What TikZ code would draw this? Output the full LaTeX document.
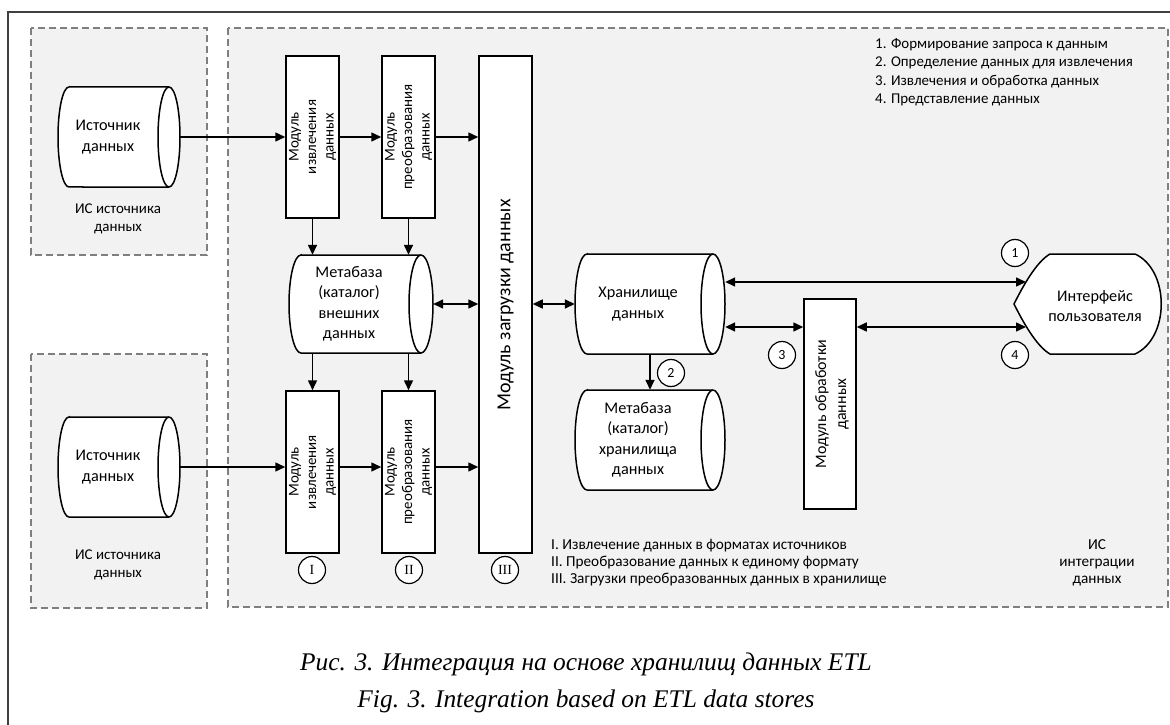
\documentclass[tikz,border=0pt]{standalone}
\usepackage{fontspec}
\setmainfont{Carlito}
\newfontfamily\capfont{Liberation Serif}
\usetikzlibrary{arrows.meta,calc}
\definecolor{panelgray}{HTML}{F2F2F2}
\definecolor{dashgray}{HTML}{7F7F7F}
\definecolor{framegray}{HTML}{404040}
\tikzset{
  panel/.style={draw=dashgray, fill=panelgray, line width=1.4bp, dash pattern=on 7bp off 4bp},
  modbox/.style={draw=black, fill=white, line width=1.5bp, minimum width=53bp, inner sep=0pt},
  dbline/.style={draw=black, fill=white, line width=1.5bp},
  dbtext/.style={align=center, font=\fontsize{16.3}{20.5}\selectfont, inner sep=0pt},
  modtext/.style={rotate=90, align=center, font=\fontsize{15}{17.5}\selectfont, inner sep=0pt},
  conn/.style={line width=1.5bp, -{Triangle[length=10bp,width=9bp]}},
  bidir/.style={line width=1.5bp, {Triangle[length=10bp,width=9bp]}-{Triangle[length=10bp,width=9bp]}},
  numc/.style={circle, draw=black, fill=white, line width=1.2bp, minimum size=27bp, inner sep=0pt, font=\fontsize{14}{14}\selectfont},
  legtext/.style={anchor=west, inner sep=0pt, font=\fontsize{15}{18}\selectfont},
  legtextb/.style={anchor=west, inner sep=0pt, font=\fontsize{15.3}{17}\selectfont},
  captext/.style={inner sep=0pt, font=\capfont\itshape\fontsize{25.5}{30}\selectfont}
}
% name, L, T, R, B, rx, text
\newcommand\dbcyl[7]{%
  \pgfmathsetmacro\dbhh{(#5-#3)/2}%
  \draw[dbline] (#2+#6,#3) -- (#4-#6,#3)
     arc[start angle=90,end angle=-90,x radius=#6bp,y radius=\dbhh bp]
     -- (#2+#6,#5)
     arc[start angle=270,end angle=90,x radius=#6bp,y radius=\dbhh bp] -- cycle;
  \draw[dbline, fill=none] (#4-#6,#3)
     arc[start angle=90,end angle=270,x radius=#6bp,y radius=\dbhh bp];
  \node[inner sep=0pt, minimum width={(#4-#2)*1bp}, minimum height={(#5-#3)*1bp}] (#1) at ({(#2+#4)/2},{(#3+#5)/2}) {};
  \node[dbtext] (#1-t) at ({(#2+#4)/2-#6},{(#3+#5)/2}) {#7};
}
\begin{document}
\begin{tikzpicture}[x=1bp,y=-1bp]
\useasboundingbox (0,0) rectangle (1170,725);
\fill[white] (0,0) rectangle (1170,725);
% frame
\draw[framegray, line width=2bp] (8,725) -- (8,12) -- (1170,12);
% panels
\draw[panel] (31,28) rectangle (207,255);
\draw[panel] (31,354) rectangle (207,608);
\draw[panel] (228,28) rectangle (1168,607);
% panel labels
\node[align=center, inner sep=0pt, font=\fontsize{15}{18.5}\selectfont] (is1) at (118,219) {ИС источника\\данных};
\node[align=center, inner sep=0pt, font=\fontsize{15}{18.5}\selectfont] (is2) at (118,565) {ИС источника\\данных};
\node[align=center, inner sep=0pt, font=\fontsize{15.3}{17}\selectfont] (isint) at (1097,563) {ИС\\интеграции\\данных};
% sources and metabases
\dbcyl{src1}{58}{87}{180}{187}{11}{Источник\\данных}
\dbcyl{src2}{58}{417}{180}{517}{11}{Источник\\данных}
\dbcyl{mext}{289}{255}{433}{353}{12}{Метабаза\\(каталог)\\внешних\\данных}
\dbcyl{store}{575}{254}{725}{354}{12}{Хранилище\\данных}
\dbcyl{mstore}{575}{390}{725}{490}{12}{Метабаза\\(каталог)\\хранилища\\данных}
% modules
\node[modbox, minimum height=162bp] (ext1) at (312.5,137) {};
\node[modtext] (ext1-t) at (312.5,137) {Модуль\\извлечения\\данных};
\node[modbox, minimum height=162bp] (tr1) at (408.5,137) {};
\node[modtext] (tr1-t) at (408.5,137) {Модуль\\преобразования\\данных};
\node[modbox, minimum height=162bp] (ext2) at (312.5,472) {};
\node[modtext] (ext2-t) at (312.5,472) {Модуль\\извлечения\\данных};
\node[modbox, minimum height=162bp] (tr2) at (408.5,472) {};
\node[modtext] (tr2-t) at (408.5,472) {Модуль\\преобразования\\данных};
\node[modbox, minimum height=497bp] (load) at (505.5,304.5) {};
\node[rotate=90, inner sep=0pt, font=\fontsize{20}{24}\selectfont] (load-t) at (505.5,305) {Модуль загрузки данных};
\node[modbox, minimum width=52bp, minimum height=210bp] (proc) at (830,404) {};
\node[rotate=90, align=center, inner sep=0pt, font=\fontsize{16}{20}\selectfont] (proc-t) at (832,404) {Модуль обработки\\данных};
% user interface
\draw[dbline] (1050,254) -- (1135,254) .. controls (1170,270) and (1170,338) .. (1135,354)
  -- (1050,354) .. controls (1036,346) and (1022,320) .. (1014,304)
  .. controls (1022,288) and (1036,262) .. (1050,254) -- cycle;
\node[dbtext] (ui) at (1095,306) {Интерфейс\\пользователя};
\coordinate (uiA) at (1026,282);
\coordinate (uiB) at (1026,327);
% connectors
\draw[conn] (src1.east) -- (ext1.west);
\draw[conn] (ext1.east) -- (tr1.west);
\draw[conn] (tr1.east) -- (tr1.east -| load.west);
\draw[conn] (ext1.south) -- (ext1.south |- mext.north);
\draw[conn] (tr1.south) -- (tr1.south |- mext.north);
\draw[bidir] (mext.east) -- (mext.east -| load.west);
\draw[conn] (ext2.north |- mext.south) -- (ext2.north);
\draw[conn] (tr2.north |- mext.south) -- (tr2.north);
\draw[conn] (src2.east) -- (src2.east -| ext2.west);
\draw[conn] (src2.east -| ext2.east) -- (src2.east -| tr2.west);
\draw[conn] (src2.east -| tr2.east) -- (src2.east -| load.west);
\draw[bidir] (store.west -| load.east) -- (store.west);
\draw[conn] (store.south) -- (mstore.north);
\draw[bidir] (uiA -| store.east) -- (uiA);
\draw[bidir] (uiB -| store.east) -- (uiB -| proc.west);
\draw[bidir] (uiB -| proc.east) -- (uiB);
% numbered circles
\node[numc] (n1) at (1015,253) {1};
\node[numc] (n2) at (671,373) {2};
\node[numc] (n3) at (782,355) {3};
\node[numc] (n4) at (1015,355) {4};
\node[numc, font=\capfont\fontsize{14}{14}\selectfont] (rI) at (312,570) {I};
\node[numc, font=\capfont\fontsize{14}{14}\selectfont] (rII) at (409,570) {II};
\node[numc, font=\capfont\fontsize{14}{14}\selectfont] (rIII) at (505,570) {III};
% legends
\node[legtext] (l1) at (875,45) {1. Формирование запроса к данным};
\node[legtext] (l2) at (875,63) {2. Определение данных для извлечения};
\node[legtext] (l3) at (875,82) {3. Извлечения и обработка данных};
\node[legtext] (l4) at (875,100) {4. Представление данных};
\node[legtextb] (lI) at (551,546) {I. Извлечение данных в форматах источников};
\node[legtextb] (lII) at (551,563) {II. Преобразование данных к единому формату};
\node[legtextb] (lIII) at (551,580) {III. Загрузки преобразованных данных в хранилище};
% captions
\node[captext] (cap1) at (586,664) {Рис. 3. Интеграция на основе хранилищ данных ETL};
\node[captext] (cap2) at (586,701) {Fig. 3. Integration based on ETL data stores};
\end{tikzpicture}
\end{document}
